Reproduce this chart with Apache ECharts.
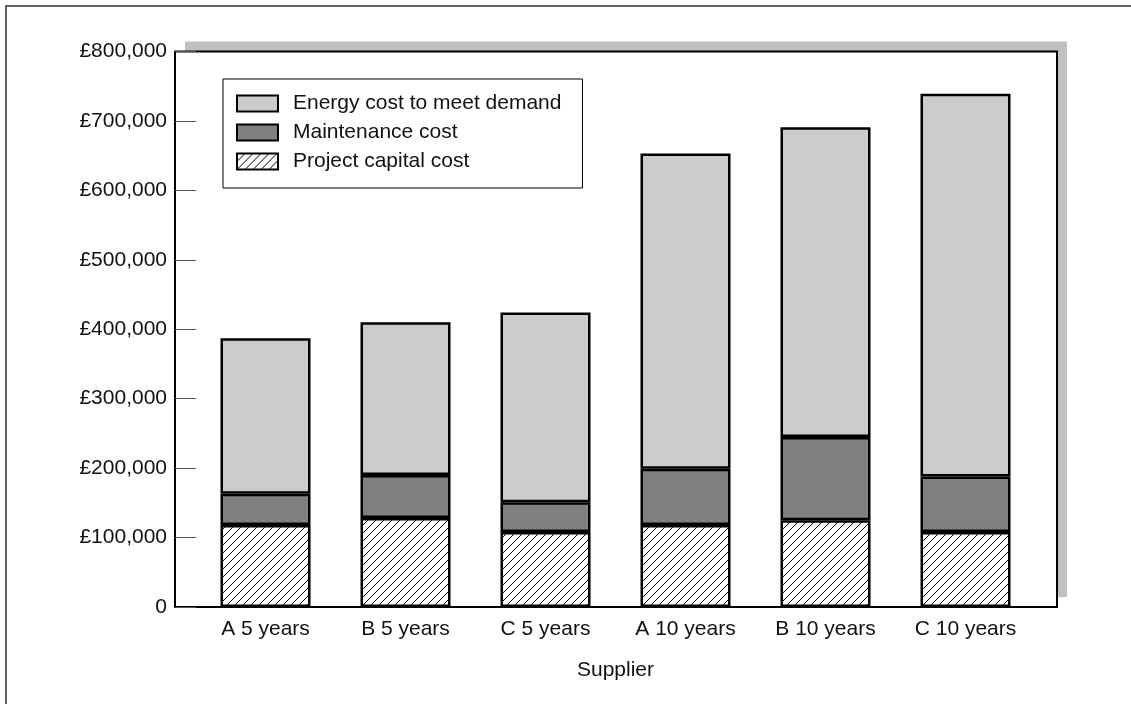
<!DOCTYPE html>
<html>
<head>
<meta charset="utf-8">
<title>Supplier costs</title>
<script src="https://cdn.jsdelivr.net/npm/echarts@6/dist/echarts.min.js"></script>
<style>
    html, body { margin: 0; padding: 0; background: #fff; }
    #main { width: 1131px; height: 704px; }
</style>
</head>
<body>
<div id="main"></div>
<script>
var suppliers = ['A 5 years', 'B 5 years', 'C 5 years', 'A 10 years', 'B 10 years', 'C 10 years'];
var capitalCost = [118000, 128000, 108000, 118000, 125000, 108000];
var maintenanceCost = [45000, 62000, 43000, 81000, 120000, 80000];
var energyCost = [224000, 220000, 273000, 454000, 446000, 551000];
var yTicks = [0, 100000, 200000, 300000, 400000, 500000, 600000, 700000, 800000];

var FONT = '"Liberation Sans", Arial, Helvetica, sans-serif';
var FS = 21;

// hatch fill for the capital cost
function hatch() {
    var c = document.createElement('canvas');
    c.width = 8;
    c.height = 8;
    var ctx = c.getContext('2d');
    ctx.fillStyle = '#fff';
    ctx.fillRect(0, 0, 8, 8);
    ctx.strokeStyle = '#000';
    ctx.lineWidth = 1;
    ctx.beginPath();
    ctx.moveTo(-1, 9); ctx.lineTo(9, -1);
    ctx.moveTo(-1, 1); ctx.lineTo(1, -1);
    ctx.moveTo(7, 9); ctx.lineTo(9, 7);
    ctx.stroke();
    return c;
}

function money(v) {
    if (v === 0) return '0';
    return '£' + String(v).replace(/\B(?=(\d{3})+(?!\d))/g, ',');
}

var frame = { left: 175, right: 74, top: 51.5, bottom: 97 };

var chart = echarts.init(document.getElementById('main'));

var opt = {
    animation: false,
    textStyle: { fontFamily: FONT },
    graphic: [{
        type: 'rect',
        z: -10,
        shape: { x: 6, y: 6, width: 2000, height: 2000 },
        style: { fill: null, stroke: '#333', lineWidth: 1.5 }
    }],
    legend: {
        orient: 'vertical',
        left: 223,
        top: 79,
        padding: [14, 21, 16, 13],
        borderColor: '#000',
        borderWidth: 1,
        icon: 'rect',
        itemWidth: 41,
        itemHeight: 16,
        itemGap: 8,
        itemStyle: { borderColor: '#000', borderWidth: 2 },
        data: ['Energy cost to meet demand', 'Maintenance cost', 'Project capital cost'],
        textStyle: { fontSize: FS, color: '#111', fontFamily: FONT, padding: [0, 0, 0, 10] }
    },
    grid: [
        {   // white plot area with grey shadow
            left: frame.left, right: frame.right, top: frame.top, bottom: frame.bottom,
            show: true,
            backgroundColor: '#fff',
            borderWidth: 0,
            shadowColor: '#c0c0c0',
            shadowBlur: 0,
            shadowOffsetX: 10,
            shadowOffsetY: -10
        },
        {   // bars
            left: 195.5, right: 95.5, top: frame.top, bottom: frame.bottom
        },
        {   // black frame
            left: frame.left, right: frame.right, top: frame.top, bottom: frame.bottom,
            show: true,
            backgroundColor: 'transparent',
            borderColor: '#000',
            borderWidth: 2
        }
    ],
    xAxis: [
        { gridIndex: 0, type: 'value', show: false },
        {
            gridIndex: 1,
            type: 'category',
            data: suppliers,
            axisLine: { show: false },
            axisTick: { show: false },
            axisLabel: { fontSize: FS, color: '#111', margin: 12, fontFamily: FONT },
            name: 'Supplier',
            nameLocation: 'middle',
            nameGap: 53,
            nameTextStyle: { fontSize: FS, color: '#111', fontFamily: FONT }
        },
        { gridIndex: 2, type: 'value', show: false }
    ],
    yAxis: [
        {
            gridIndex: 0,
            type: 'value',
            min: yTicks[0],
            max: yTicks[yTicks.length - 1],
            interval: yTicks[1] - yTicks[0],
            axisLine: { show: false },
            axisTick: { show: true, inside: true, length: 21, lineStyle: { color: '#555', width: 1 } },
            splitLine: { show: false },
            axisLabel: { fontSize: FS, color: '#111', margin: 8, fontFamily: FONT, formatter: money }
        },
        {
            gridIndex: 1,
            type: 'value',
            min: yTicks[0],
            max: yTicks[yTicks.length - 1],
            show: false,
            splitLine: { show: false }
        },
        { gridIndex: 2, type: 'value', show: false, splitLine: { show: false } }
    ],
    series: [
        {
            name: 'Project capital cost',
            type: 'bar',
            stack: 'cost',
            xAxisIndex: 1,
            yAxisIndex: 1,
            barWidth: 90,
            data: capitalCost,
            itemStyle: { color: { image: hatch(), repeat: 'repeat' }, borderColor: '#000', borderWidth: 2.5 }
        },
        {
            name: 'Maintenance cost',
            type: 'bar',
            stack: 'cost',
            xAxisIndex: 1,
            yAxisIndex: 1,
            barWidth: 90,
            data: maintenanceCost,
            itemStyle: { color: '#808080', borderColor: '#000', borderWidth: 2.5 }
        },
        {
            name: 'Energy cost to meet demand',
            type: 'bar',
            stack: 'cost',
            xAxisIndex: 1,
            yAxisIndex: 1,
            barWidth: 90,
            data: energyCost,
            itemStyle: { color: '#cbcbcb', borderColor: '#000', borderWidth: 2.5 }
        }
    ]
};

chart.setOption(opt);
</script>
</body>
</html>
